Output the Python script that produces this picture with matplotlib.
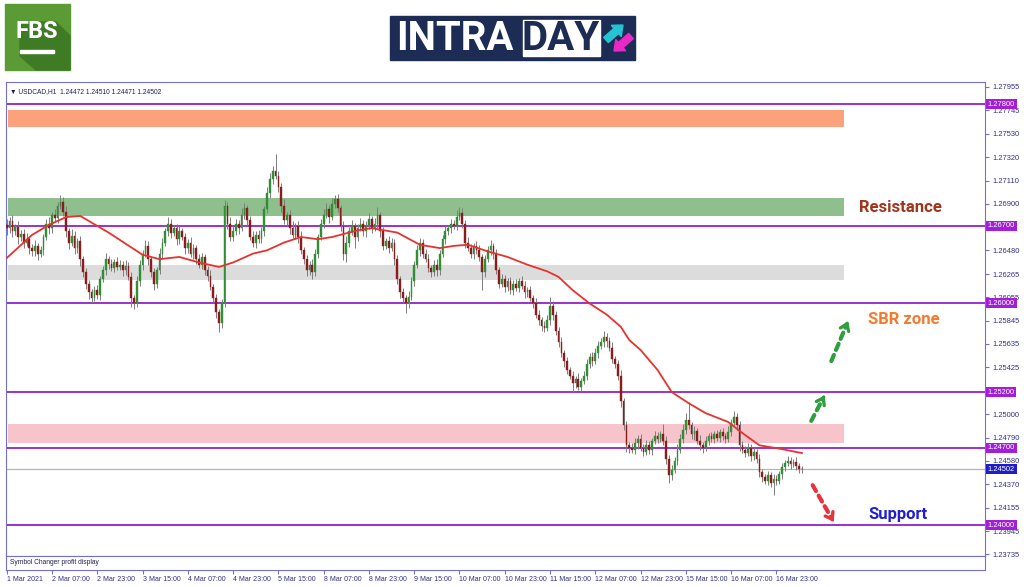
import numpy as np
import matplotlib
matplotlib.use('Agg')
import matplotlib.pyplot as plt
from matplotlib.patches import Rectangle, Polygon, FancyArrow

# ---- data (USDCAD H1) ----
first_open = 1.2671
closes = [
    1.2668, 1.2674, 1.2665, 1.2669, 1.2660, 1.2663, 1.2655, 1.2658, 1.2650, 1.2647,
    1.2652, 1.2645, 1.2648, 1.2660, 1.2672, 1.2668, 1.2680, 1.2677, 1.2688, 1.2692,
    1.2683, 1.2665, 1.2655, 1.2661, 1.2650, 1.2656, 1.2640, 1.2628, 1.2618, 1.2610,
    1.2605, 1.2612, 1.2608, 1.2622, 1.2630, 1.2640, 1.2636, 1.2632, 1.2637, 1.2633,
    1.2635, 1.2630, 1.2634, 1.2624, 1.2605, 1.2600, 1.2620, 1.2635, 1.2645, 1.2652,
    1.2640, 1.2628, 1.2618, 1.2630, 1.2645, 1.2655, 1.2665, 1.2672, 1.2664, 1.2668,
    1.2658, 1.2665, 1.2660, 1.2650, 1.2655, 1.2645, 1.2650, 1.2640, 1.2635, 1.2642,
    1.2630, 1.2625, 1.2615, 1.2605, 1.2592, 1.2582, 1.2600, 1.2688, 1.2672, 1.2660,
    1.2665, 1.2672, 1.2668, 1.2680, 1.2686, 1.2675, 1.2660, 1.2655, 1.2662, 1.2658,
    1.2665, 1.2685, 1.2700, 1.2712, 1.2720, 1.2715, 1.2705, 1.2688, 1.2675, 1.2680,
    1.2668, 1.2662, 1.2670, 1.2660, 1.2648, 1.2640, 1.2630, 1.2635, 1.2628, 1.2645,
    1.2660, 1.2672, 1.2680, 1.2685, 1.2678, 1.2690, 1.2694, 1.2686, 1.2670, 1.2645,
    1.2655, 1.2665, 1.2670, 1.2660, 1.2668, 1.2672, 1.2665, 1.2670, 1.2676, 1.2668,
    1.2672, 1.2680, 1.2665, 1.2652, 1.2656, 1.2650, 1.2655, 1.2640, 1.2622, 1.2610,
    1.2605, 1.2600, 1.2606, 1.2620, 1.2635, 1.2648, 1.2655, 1.2645, 1.2640, 1.2632,
    1.2628, 1.2635, 1.2630, 1.2645, 1.2658, 1.2665, 1.2668, 1.2672, 1.2670, 1.2678,
    1.2682, 1.2672, 1.2655, 1.2650, 1.2645, 1.2652, 1.2648, 1.2642, 1.2628, 1.2640,
    1.2648, 1.2652, 1.2645, 1.2630, 1.2618, 1.2622, 1.2615, 1.2620, 1.2612, 1.2618,
    1.2614, 1.2620, 1.2616, 1.2610, 1.2612, 1.2605, 1.2600, 1.2590, 1.2585, 1.2580,
    1.2578, 1.2585, 1.2598, 1.2590, 1.2575, 1.2565, 1.2555, 1.2548, 1.2540, 1.2535,
    1.2528, 1.2532, 1.2525, 1.2530, 1.2535, 1.2545, 1.2552, 1.2548, 1.2555, 1.2562,
    1.2565, 1.2570, 1.2566, 1.2560, 1.2550, 1.2545, 1.2535, 1.2512, 1.2490, 1.2472,
    1.2470, 1.2468, 1.2474, 1.2478, 1.2470, 1.2466, 1.2472, 1.2468, 1.2476, 1.2480,
    1.2478, 1.2482, 1.2476, 1.2460, 1.2445, 1.2450, 1.2458, 1.2468, 1.2478, 1.2486,
    1.2495, 1.2490, 1.2482, 1.2485, 1.2476, 1.2472, 1.2470, 1.2476, 1.2480, 1.2478,
    1.2482, 1.2479, 1.2484, 1.2480, 1.2478, 1.2484, 1.2492, 1.2498, 1.2490, 1.2472,
    1.2468, 1.2465, 1.2470, 1.2462, 1.2466, 1.2460, 1.2448, 1.2443, 1.2440, 1.2445,
    1.2438, 1.2442, 1.2440, 1.2446, 1.2452, 1.2456, 1.2458, 1.2455, 1.2457, 1.2453,
    1.2451, 1.24502,
]
# upper / lower shadows in pips
up_wick = [
    5, 4, 6, 3, 5, 3, 4, 6, 3, 4,   5, 3, 4, 3, 4, 6, 3, 5, 4, 6,
    4, 5, 3, 6, 4, 3, 5, 3, 4, 3,   3, 4, 5, 3, 4, 6, 3, 4, 3, 5,
    4, 3, 5, 3, 4, 3, 5, 4, 3, 5,   4, 3, 4, 3, 5, 4, 3, 6, 4, 3,
    4, 5, 3, 4, 3, 5, 4, 3, 5, 4,   3, 4, 5, 3, 4, 3, 4, 5, 4, 6,
    5, 4, 3, 6, 5, 3, 4, 5, 3, 4,   4, 3, 5, 6, 4, 15, 5, 4, 6, 3,
    4, 6, 3, 4, 5, 3, 4, 3, 5, 4,   3, 4, 5, 6, 4, 5, 4, 5, 3, 4,
    6, 4, 5, 3, 4, 5, 3, 4, 6, 3,   5, 7, 3, 4, 3, 5, 4, 3, 4, 3,
    4, 3, 5, 4, 3, 5, 4, 3, 4, 5,   3, 4, 5, 3, 4, 5, 3, 4, 3, 6,
    5, 4, 3, 5, 4, 3, 4, 5, 3, 4,   4, 5, 3, 4, 3, 5, 4, 3, 4, 3,
    4, 3, 5, 4, 3, 4, 3, 5, 4, 3,   4, 5, 8, 4, 3, 4, 5, 3, 4, 3,
    4, 3, 5, 3, 4, 5, 3, 4, 5, 4,   4, 5, 3, 4, 5, 3, 4, 5, 3, 4,
    3, 4, 5, 3, 4, 3, 5, 4, 3, 5,   4, 3, 9, 4, 3, 4, 3, 5, 4, 5,
    6, 16, 3, 4, 3, 5, 3, 4, 3, 4,  3, 4, 3, 4, 3, 5, 4, 5, 3, 4,
    4, 3, 4, 3, 4, 3, 4, 3, 3, 4,   3, 4, 3, 3, 4, 3, 4, 3, 3, 4, 3, 2,
]
dn_wick = [
    6, 4, 5, 3, 6, 4, 5, 3, 5, 4,   4, 6, 3, 4, 3, 5, 4, 3, 4, 3,
    4, 5, 6, 3, 5, 4, 6, 4, 5, 6,   5, 3, 4, 5, 3, 4, 5, 3, 4, 3,
    3, 5, 4, 3, 8, 5, 3, 4, 5, 3,   5, 4, 6, 4, 3, 4, 3, 4, 5, 3,
    5, 4, 3, 5, 4, 3, 5, 4, 3, 4,   4, 5, 3, 4, 5, 8, 4, 3, 5, 4,
    4, 3, 5, 3, 4, 5, 3, 4, 5, 3,   3, 4, 3, 5, 4, 3, 4, 5, 3, 4,
    5, 3, 4, 5, 3, 4, 5, 4, 6, 3,   4, 3, 4, 3, 5, 3, 4, 3, 5, 6,
    8, 4, 3, 10, 4, 3, 4, 5, 3, 4,  3, 4, 5, 4, 3, 4, 3, 5, 4, 5,
    4, 9, 4, 3, 4, 3, 5, 4, 3, 4,   4, 3, 5, 4, 3, 4, 3, 4, 3, 4,
    3, 4, 5, 3, 4, 5, 3, 4, 16, 4,  3, 4, 5, 3, 4, 3, 5, 4, 3, 4,
    3, 4, 3, 5, 4, 3, 4, 3, 4, 5,   4, 3, 4, 5, 3, 4, 3, 5, 4, 3,
    8, 4, 3, 4, 3, 4, 3, 4, 3, 4,   3, 4, 5, 3, 4, 3, 4, 5, 4, 6,
    5, 3, 4, 5, 3, 4, 3, 4, 5, 3,   4, 3, 4, 5, 7, 4, 3, 4, 3, 4,
    4, 3, 4, 5, 3, 4, 5, 3, 4, 3,   4, 3, 4, 3, 4, 3, 4, 3, 4, 5,
    3, 4, 3, 4, 3, 4, 5, 4, 3, 4,   4, 11, 4, 3, 4, 3, 3, 4, 3, 3, 4, 3,
]

# moving average (red line), read at bar positions
ma_bars = [0, 9, 15, 21, 26, 30, 36, 42, 48, 54, 61, 68, 75, 80, 87, 92, 98, 104,
           110, 115, 121, 124, 129, 138, 146, 153, 158, 163, 170, 177, 184, 191,
           195, 200, 206, 212, 217, 220, 224, 230, 235, 241, 247, 255, 260, 266,
           273, 281]
ma_vals = [1.2641, 1.2662, 1.2671, 1.2678, 1.2679, 1.2673, 1.2664, 1.2654, 1.2644,
           1.2640, 1.2642, 1.2637, 1.2633, 1.2637, 1.2645, 1.2648, 1.2655, 1.2660,
           1.2658, 1.2660, 1.2664, 1.2666, 1.2668, 1.2664, 1.2653, 1.2650, 1.2652,
           1.2653, 1.2647, 1.2642, 1.2635, 1.2629, 1.2624, 1.2612, 1.2600, 1.2590,
           1.2579, 1.2567, 1.2558, 1.2540, 1.2520, 1.2510, 1.2501, 1.2493, 1.2483,
           1.2472, 1.2469, 1.2465]

# horizontal zones
zone_lo = [1.27592, 1.26789, 1.26212, 1.24740]
zone_hi = [1.27746, 1.26952, 1.26347, 1.24912]
zone_colors = ['#fba17c', '#8fbf8c', '#dcdcdc', '#f8c4cc']
zone_end_bar = 296

levels = [1.27800, 1.26700, 1.26000, 1.25200, 1.24700, 1.24000]
last_price = 1.24502

price_ticks = [1.27955, 1.27745, 1.27530, 1.27320, 1.27110, 1.26900, 1.26480,
               1.26265, 1.26055, 1.25845, 1.25635, 1.25425, 1.25000, 1.24790,
               1.24580, 1.24370, 1.24155, 1.23945, 1.23735]
time_labels = ['1 Mar 2021', '2 Mar 07:00', '2 Mar 23:00', '3 Mar 15:00',
               '4 Mar 07:00', '4 Mar 23:00', '5 Mar 15:00', '8 Mar 07:00',
               '8 Mar 23:00', '9 Mar 15:00', '10 Mar 07:00', '10 Mar 23:00',
               '11 Mar 15:00', '12 Mar 07:00', '12 Mar 23:00', '15 Mar 15:00',
               '16 Mar 07:00', '16 Mar 23:00']
bars_per_label = 16

# ---- figure ----
W, H = 1024, 587
fig = plt.figure(figsize=(W / 100, H / 100), dpi=100)
fig.patch.set_facecolor('white')
SMALL = ['Liberation Sans', 'DejaVu Sans']
frame_col = '#7070d8'
txt_col = '#30308a'
purple = '#9b30d0'


def fx(px):
    return px / W


def fy(py):
    return 1 - py / H


# header logos (pixel coords)
lg = fig.add_axes([0, 0, 1, 1])
lg.set_xlim(0, W)
lg.set_ylim(H, 0)
lg.axis('off')
lg.add_patch(Rectangle((5, 4), 65, 66, color='#5b9b35'))
lg.add_patch(Polygon([(20, 22), (56, 22), (70, 36), (70, 70), (36, 70), (20, 56)],
                     color='#3f7a24'))
lg.text(37, 32, 'FBS', color='white', fontsize=17, fontweight='bold',
        ha='center', va='center', family='Roboto')
lg.add_patch(Rectangle((20, 50), 34, 3, color='white'))

lg.add_patch(Rectangle((390, 16), 245, 44, color='#1c2c54'))
lg.add_patch(Rectangle((523, 20), 77, 36, color='white'))
lg.text(396, 39, 'INTRA', color='white', fontsize=29, fontweight='bold',
        ha='left', va='center', family='Roboto')
lg.text(561, 39, 'DAY', color='#1c2c54', fontsize=29, fontweight='bold',
        ha='center', va='center', family='Roboto')
lg.add_patch(FancyArrow(606, 40, 17, -15, width=7, head_width=15, head_length=9,
                        color='#25c3d4', length_includes_head=True))
lg.add_patch(FancyArrow(631, 36, -17, 15, width=7, head_width=15, head_length=9,
                        color='#e829c6', length_includes_head=True))

# main price panel
ax = fig.add_axes([fx(6), fy(556), fx(985) - fx(6), fy(82) - fy(556)])
ax2 = fig.add_axes([fx(6), fy(570), fx(985) - fx(6), fy(556) - fy(570)], sharex=ax)

n = len(closes)
x = np.arange(n)
c = np.array(closes)
o = np.concatenate([[first_open], c[:-1]])
hi = np.maximum(o, c) + np.array(up_wick[:n]) / 1e4
lo = np.minimum(o, c) - np.array(dn_wick[:n]) / 1e4
bull = c >= o
body_col = np.where(bull, '#2f8f35', '#8a1c1c')
body_h = np.maximum(np.abs(c - o), 0.00003)

for lo_z, hi_z, col in zip(zone_lo, zone_hi, zone_colors):
    ax.fill_between([0.4, zone_end_bar], lo_z, hi_z, color=col, lw=0, zorder=1)

ax.axhline(last_price, color='#b4b4b4', lw=0.9, zorder=2)
for lv in levels:
    ax.axhline(lv, color=purple, lw=1.4, zorder=2)

ax.vlines(x, lo, hi, color='#7d7d7d', lw=0.7, zorder=3)
ax.bar(x, body_h, bottom=np.minimum(o, c), width=0.6, color=body_col,
       edgecolor=body_col, lw=0.3, zorder=4)
ax.plot(ma_bars, ma_vals, color='#e8322e', lw=1.3, zorder=5)

ax.set_xlim(-0.25, 345.7)
ax.set_ylim(1.23721, 1.27999)

for sp in ax.spines.values():
    sp.set_color(frame_col)
for sp in ax2.spines.values():
    sp.set_color(frame_col)

ax.yaxis.tick_right()
ax.set_yticks(price_ticks)
ax.set_yticklabels([f'{v:.5f}' for v in price_ticks])
ax.tick_params(axis='y', length=3, color=frame_col, labelcolor=txt_col,
               labelsize=5.4, pad=2)
for t in ax.get_yticklabels():
    t.set_family(SMALL)
ax.tick_params(axis='x', bottom=False, labelbottom=False)

# price badges on the axis
for lv in levels:
    ax.text(1.003, lv, f'{lv:.5f}', transform=ax.get_yaxis_transform(),
            fontsize=5.4, color='white', va='center', ha='left', family=SMALL,
            bbox=dict(boxstyle='square,pad=0.2', fc='#a21fd8', ec='none'),
            clip_on=False, zorder=10)
ax.text(1.003, last_price, f'{last_price:.5f}', transform=ax.get_yaxis_transform(),
        fontsize=5.4, color='white', va='center', ha='left', family=SMALL,
        bbox=dict(boxstyle='square,pad=0.2', fc='#1e1ec8', ec='none'),
        clip_on=False, zorder=10)

ax.text(0.004, 0.988, '\u25bc USDCAD,H1  1.24472 1.24510 1.24471 1.24502',
        transform=ax.transAxes, fontsize=4.8, color='#202050', va='top',
        ha='left', family=SMALL)

# annotations
ax.text(301, (zone_lo[1] + zone_hi[1]) / 2, 'Resistance', color='#a3341c',
        fontsize=12, fontweight='bold', va='center', ha='left', family='Roboto')
ax.text(304.5, 1.2586, 'SBR zone', color='#f47a30', fontsize=12,
        fontweight='bold', va='center', ha='left', family='Roboto')
ax.text(304.5, 1.2410, 'Support', color='#1f1fd1', fontsize=12,
        fontweight='bold', va='center', ha='left', family='Roboto')

arrows = [((284.3, 1.2494), (289.0, 1.2517), '#2e9e3e'),
          ((291.4, 1.2548), (297.3, 1.2584), '#2e9e3e'),
          ((284.8, 1.2436), (292.2, 1.2403), '#e8333a')]
for (x0, y0), (x1, y1), col in arrows:
    ax.annotate('', xy=(x1, y1), xytext=(x0, y0),
                arrowprops=dict(arrowstyle='-', lw=3, color=col,
                                linestyle=(0, (1.6, 1.3)), shrinkA=0, shrinkB=3))
    ax.annotate('', xy=(x1, y1),
                xytext=(x0 + (x1 - x0) * 0.93, y0 + (y1 - y0) * 0.93),
                arrowprops=dict(arrowstyle='->,head_length=0.45,head_width=0.32',
                                lw=2.4, color=col, shrinkA=0, shrinkB=0))

# sub panel with time axis
ax2.set_yticks([])
ax2.text(0.004, 0.5, 'Symbol Changer profit display', transform=ax2.transAxes,
         fontsize=4.8, color='#202050', va='center', ha='left', family=SMALL)
tick_pos = [i * bars_per_label for i in range(len(time_labels))]
ax2.set_xticks(tick_pos)
ax2.set_xticklabels(time_labels)
ax2.tick_params(axis='x', length=3, color=frame_col, labelcolor=txt_col,
                labelsize=5, pad=1.5)
for t in ax2.get_xticklabels():
    t.set_ha('left')
    t.set_family(SMALL)

fig.savefig('out.png', dpi=100, facecolor='white')
